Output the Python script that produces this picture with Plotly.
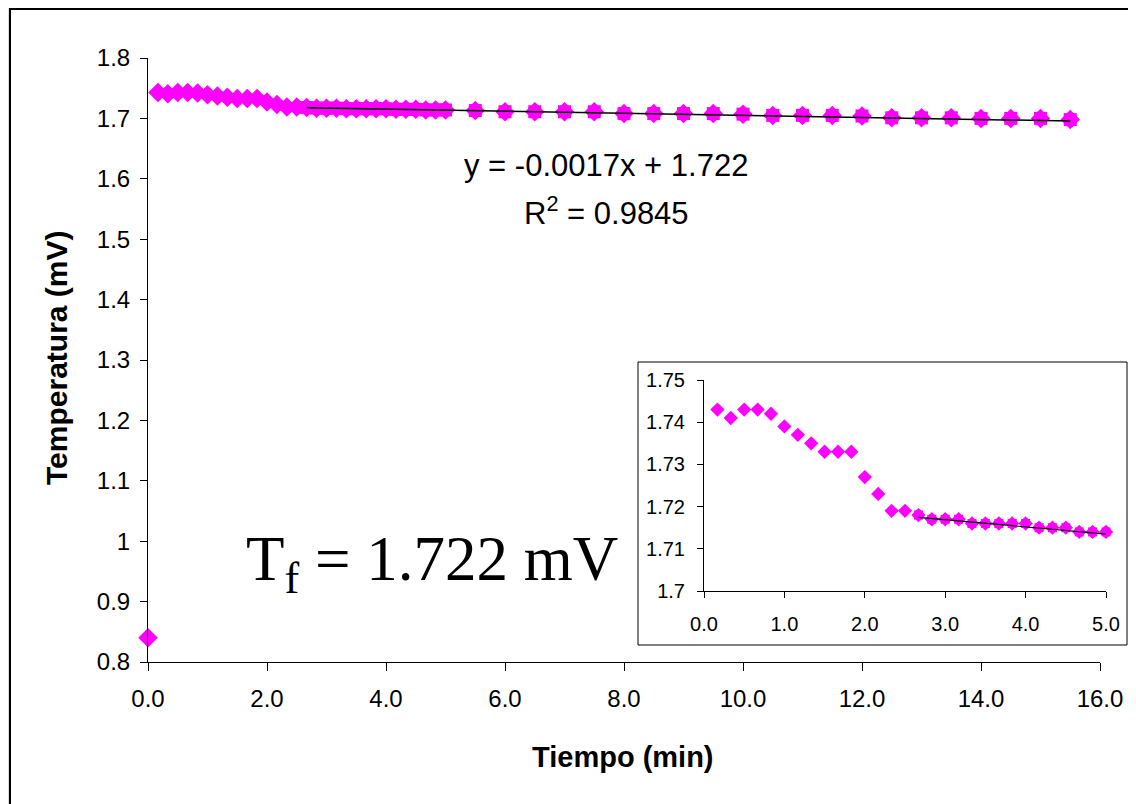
import plotly.graph_objects as go

# ---------------- data ----------------
# first 5 minutes, readings every 10 s
t_early = [0.000, 0.167, 0.333, 0.500, 0.667, 0.833, 1.000, 1.167, 1.333, 1.500,
           1.667, 1.833, 2.000, 2.167, 2.333, 2.500, 2.667, 2.833, 3.000, 3.167,
           3.333, 3.500, 3.667, 3.833, 4.000, 4.167, 4.333, 4.500, 4.667, 4.833, 5.000]
v_early = [0.840, 1.743, 1.741, 1.743, 1.743, 1.742, 1.739, 1.737, 1.735, 1.733,
           1.733, 1.733, 1.727, 1.723, 1.719, 1.719, 1.718, 1.717, 1.717, 1.717,
           1.716, 1.716, 1.716, 1.716, 1.716, 1.715, 1.715, 1.715, 1.714, 1.714, 1.714]
# afterwards, readings every 30 s
t_late = [5.5, 6.0, 6.5, 7.0, 7.5, 8.0, 8.5, 9.0, 9.5, 10.0, 10.5,
          11.0, 11.5, 12.0, 12.5, 13.0, 13.5, 14.0, 14.5, 15.0, 15.5]
v_late = [1.713, 1.711, 1.711, 1.711, 1.711, 1.708, 1.708, 1.708, 1.708, 1.707, 1.705,
          1.705, 1.705, 1.704, 1.701, 1.701, 1.701, 1.700, 1.700, 1.700, 1.698]

fit_from = 2.667            # start of the linear fit region (min)
slope, intercept, r2 = -0.0017, 1.722, 0.9845
tf_value = 1.722

x_ticks = [0, 2, 4, 6, 8, 10, 12, 14, 16]
y_ticks = [0.8, 0.9, 1.0, 1.1, 1.2, 1.3, 1.4, 1.5, 1.6, 1.7, 1.8]
y_ticktext = ["0.8", "0.9", "1", "1.1", "1.2", "1.3", "1.4", "1.5", "1.6", "1.7", "1.8"]
x2_ticks = [0, 1, 2, 3, 4, 5]
y2_ticks = [1.70, 1.71, 1.72, 1.73, 1.74, 1.75]
y2_ticktext = ["1.7", "1.71", "1.72", "1.73", "1.74", "1.75"]

# ---------------- derived ----------------
t_all = t_early + t_late
v_all = v_early + v_late
fit_t = [t for t in t_all if t >= fit_from - 1e-9]
fit_v = [v for t, v in zip(t_all, v_all) if t >= fit_from - 1e-9]
fit_t_in = [t for t in t_early if t >= fit_from - 1e-9]
fit_v_in = [v for t, v in zip(t_early, v_early) if t >= fit_from - 1e-9]
line_x = [min(fit_t), max(fit_t)]
line_y = [slope * x + intercept for x in line_x]
line_x2 = [min(fit_t_in), max(fit_t_in)]
line_y2 = [slope * x + intercept for x in line_x2]

# page body has an 8 px margin; the figure fills the rest of the window
OFF = 8
W, H = 1136 - OFF, 804 - OFF
def px(x):
    return (x - OFF) / W
def py(y):
    return 1 - (y - OFF) / H

MAG = "#FF00FF"
FONT = "Liberation Sans, Arial, Helvetica, sans-serif"

fig = go.Figure()
# main chart
fig.add_trace(go.Scatter(x=t_all, y=v_all, mode="markers",
                         marker=dict(symbol="diamond", size=15, color=MAG),
                         cliponaxis=False, xaxis="x", yaxis="y", showlegend=False))
fig.add_trace(go.Scatter(x=fit_t, y=fit_v, mode="markers",
                         marker=dict(symbol="square", size=13, color=MAG),
                         cliponaxis=False, xaxis="x", yaxis="y", showlegend=False))
fig.add_trace(go.Scatter(x=line_x, y=line_y, mode="lines",
                         line=dict(color="black", width=1.5),
                         xaxis="x", yaxis="y", showlegend=False))
# inset
fig.add_trace(go.Scatter(x=t_early[1:], y=v_early[1:], mode="markers",
                         marker=dict(symbol="diamond", size=11, color=MAG),
                         cliponaxis=False, xaxis="x2", yaxis="y2", showlegend=False))
fig.add_trace(go.Scatter(x=fit_t_in, y=fit_v_in, mode="markers",
                         marker=dict(symbol="square", size=9, color=MAG),
                         cliponaxis=False, xaxis="x2", yaxis="y2", showlegend=False))
fig.add_trace(go.Scatter(x=line_x2, y=line_y2, mode="lines",
                         line=dict(color="black", width=1.2),
                         xaxis="x2", yaxis="y2", showlegend=False))

axis_common = dict(showline=True, linecolor="black", linewidth=1, ticks="outside",
                   tickcolor="black", showgrid=False, zeroline=False, fixedrange=True,
                   automargin=False)

fig.update_layout(
    width=W, height=H,
    margin=dict(l=0, r=0, t=0, b=0, pad=0, autoexpand=False),
    paper_bgcolor="#dcdcdc",
    plot_bgcolor="rgba(0,0,0,0)",
    font=dict(family=FONT, color="black"),
    xaxis=dict(domain=[px(148), px(1100)], range=[0, 16], anchor="y",
               tickvals=x_ticks, ticktext=[f"{v:.1f}" for v in x_ticks],
               ticklen=8, tickfont=dict(size=24), ticklabelstandoff=7, **axis_common),
    yaxis=dict(domain=[py(662), py(58)], range=[0.8, 1.8], anchor="x",
               tickvals=y_ticks, ticktext=y_ticktext,
               ticklen=7, tickfont=dict(size=24), ticklabelstandoff=5, **axis_common),
    xaxis2=dict(domain=[px(704), px(1106)], range=[0, 5], anchor="y2",
                tickvals=x2_ticks, ticktext=[f"{v:.1f}" for v in x2_ticks],
                ticklen=6, tickfont=dict(size=20), ticklabelstandoff=9, **axis_common),
    yaxis2=dict(domain=[py(591), py(380)], range=[1.70, 1.75], anchor="x2",
                tickvals=y2_ticks, ticktext=y2_ticktext,
                ticklen=6, tickfont=dict(size=20), ticklabelstandoff=8, **axis_common),
    shapes=[
        dict(type="rect", xref="paper", yref="paper", layer="below",
             x0=px(10), y0=py(9), x1=1.02, y1=-0.02,
             fillcolor="white", line=dict(color="black", width=2)),
        dict(type="rect", xref="paper", yref="paper", layer="below",
             x0=px(638), y0=py(645), x1=px(1127), y1=py(362),
             fillcolor="white", line=dict(color="black", width=1)),
    ],
    annotations=[
        dict(text="<b>Tiempo (min)</b>", x=px(623), y=py(757), xref="paper", yref="paper",
             showarrow=False, font=dict(size=29), xanchor="center", yanchor="middle"),
        dict(text="<b>Temperatura (mV)</b>", x=px(57), y=py(358), xref="paper", yref="paper",
             showarrow=False, font=dict(size=30), textangle=-90,
             xanchor="center", yanchor="middle"),
        dict(text=f"y = {slope:.4f}x + {intercept:.3f}", x=px(606), y=py(165),
             xref="paper", yref="paper", showarrow=False, font=dict(size=31),
             xanchor="center", yanchor="middle"),
        dict(text=f"R<sup>2</sup> = {r2:.4f}", x=px(606), y=py(211),
             xref="paper", yref="paper", showarrow=False, font=dict(size=31),
             xanchor="center", yanchor="middle"),
        dict(text=f"T<sub>f</sub> = {tf_value:.3f} mV", x=px(432), y=py(563),
             xref="paper", yref="paper", showarrow=False,
             font=dict(size=63, family="Liberation Serif, Times New Roman, serif"),
             xanchor="center", yanchor="middle"),
    ],
)

fig.write_html("out.html")
